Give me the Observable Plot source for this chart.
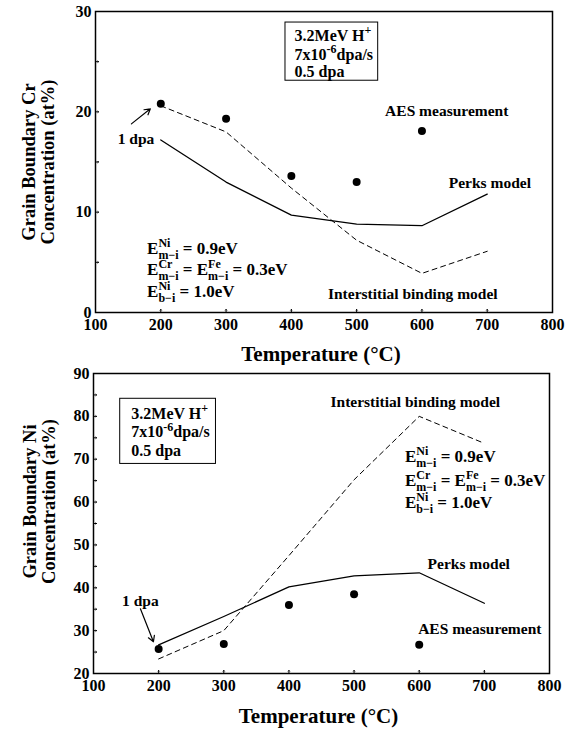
<!DOCTYPE html>
<html><head><meta charset="utf-8">
<style>
html,body{margin:0;padding:0;background:#fff}
svg{display:block}
</style>
<script src="https://cdn.jsdelivr.net/npm/d3@7"></script>
<script src="https://cdn.jsdelivr.net/npm/@observablehq/plot@0.6"></script>
</head><body>
<div id="chart"></div>
<script>
// ---------- data ----------
const modelTemps = [200, 300, 400, 500, 600, 700];
const aesTemps = [200, 300, 400, 500, 600];
const xTicks = [100, 200, 300, 400, 500, 600, 700, 800];

const crAES = [20.8, 19.3, 13.6, 13.0, 18.1];
const crPerks = [17.2, 13.0, 9.7, 8.8, 8.65, 11.8];
const crInterstitial = [20.6, 18.0, 12.4, 7.2, 3.9, 6.1];
const crTicks = [0, 10, 20, 30];
const crMinor = [5, 15, 25];

const niAES = [25.7, 26.9, 36.0, 38.5, 26.7];
const niPerks = [26.7, 33.3, 40.2, 42.8, 43.5, 36.4];
const niInterstitial = [23.4, 30.0, 47.5, 65.2, 80.0, 73.7];
const niTicks = [20, 30, 40, 50, 60, 70, 80, 90];
const niMinor = [25, 35, 45, 55, 65, 75, 85];

const boxLines = ["3.2MeV H^{+}", "7x10^{-6}dpa/s", "0.5 dpa"];
const eqLines = ["E^{Ni}_{m\u2212i} = 0.9eV", "E^{Cr}_{m\u2212i} = E^{Fe}_{m\u2212i} = 0.3eV", "E^{Ni}_{b\u2212i} = 1.0eV"];

const SERIF = "'Liberation Serif','Times New Roman',Times,serif";

function chart(o) {
  const lbl = (t, x, y) => Plot.text([t], {x: () => x, y: () => y, text: d => d, fontSize: 15.5, fontWeight: "bold", textAnchor: "middle"});
  return Plot.plot({
    width: 570, height: o.height,
    marginTop: o.marginTop, marginBottom: o.marginBottom, marginLeft: o.marginLeft, marginRight: o.marginRight,
    style: {fontFamily: SERIF, fontWeight: "bold", color: "black", background: "white"},
    x: {domain: [100, 800]},
    y: {domain: o.yDomain},
    marks: [
      Plot.axisX({ticks: xTicks, tickSize: 0, tickPadding: 6, fontSize: 16, label: null, tickFormat: d => String(d)}),
      Plot.axisY({ticks: o.yTicks, tickSize: 0, tickPadding: 4, fontSize: 16, label: null, tickFormat: d => String(d)}),
      Plot.vector(xTicks.slice(1, -1), {x: d => d, y: () => o.yDomain[0], length: 3, anchor: "start", rotate: 0, stroke: "black", strokeWidth: 1}),
      Plot.vector(o.yMinor.concat(o.yTicks.slice(1, -1)), {x: () => 100, y: d => d, length: 3, anchor: "start", rotate: 90, stroke: "black", strokeWidth: 1}),
      Plot.line(modelTemps, {x: d => d, y: (d, i) => o.perks[i], stroke: "black", strokeWidth: 1.3}),
      Plot.line(modelTemps, {x: d => d, y: (d, i) => o.inter[i], stroke: "black", strokeWidth: 1, strokeDasharray: "5,4"}),
      Plot.dot(aesTemps, {x: d => d, y: (d, i) => o.aes[i], r: 4, fill: "black"}),
      Plot.rect([o.box], {x1: d => d.x1, x2: d => d.x2, y1: d => d.y1, y2: d => d.y2, fill: "white", stroke: "black", strokeWidth: 1}),
      Plot.text(boxLines, {x: () => o.box.tx, y: (d, i) => o.box.ty[i], text: d => d, textAnchor: "start", fontSize: 16, fontWeight: "bold"}),
      Plot.text(eqLines, {x: () => o.eq.x, y: (d, i) => o.eq.y[i], text: d => d, textAnchor: "start", fontSize: 17, fontWeight: "bold"}),
      ...o.labels.map(l => lbl(l.t, l.x, l.y)),
      Plot.arrow([o.arrow], {x1: d => d.x1, y1: d => d.y1, x2: d => d.x2, y2: d => d.y2, stroke: "black", strokeWidth: 1.2, headLength: 8}),
      Plot.frame({stroke: "black", strokeWidth: 1.5}),
      Plot.text(["Temperature (°C)"], {frameAnchor: "bottom", lineAnchor: "middle", textAnchor: "middle", dx: -3, dy: o.xTitleDy, fontSize: 21, fontWeight: "bold"}),
      Plot.text([o.yTitle], {frameAnchor: "left", rotate: -90, textAnchor: "middle", lineAnchor: "middle", dx: o.yTitleDx, dy: o.yTitleDy, fontSize: 18.5, fontWeight: "bold", lineHeight: 1.03})
    ]
  });
}

const topChart = chart({
  height: 365, marginTop: 11, marginBottom: 53, marginLeft: 95, marginRight: 18,
  yDomain: [0, 30], yTicks: crTicks, yMinor: crMinor,
  aes: crAES, perks: crPerks, inter: crInterstitial,
  box: {x1: 391, x2: 533, y1: 23.1, y2: 28.9, tx: 405, ty: [27.6, 25.7, 24.0]},
  eq: {x: 179, y: [6.4, 4.3, 2.05]},
  labels: [
    {t: "AES measurement", x: 638, y: 20.1},
    {t: "Perks model", x: 704, y: 12.9},
    {t: "Interstitial binding model", x: 586, y: 1.8},
    {t: "1 dpa", x: 162, y: 17.3}
  ],
  arrow: {x1: 155, y1: 18.8, x2: 184, y2: 20.3},
  xTitleDy: 42,
  yTitle: "Grain Boundary Cr\nConcentration (at%)", yTitleDx: -57, yTitleDy: 0
});

const bottomChart = chart({
  height: 368, marginTop: 8, marginBottom: 60, marginLeft: 93, marginRight: 21,
  yDomain: [20, 90], yTicks: niTicks, yMinor: niMinor,
  aes: niAES, perks: niPerks, inter: niInterstitial,
  box: {x1: 141, x2: 288, y1: 68.9, y2: 84.1, tx: 158, ty: [80.6, 76.3, 71.9]},
  eq: {x: 578, y: [70.7, 65.0, 59.8]},
  labels: [
    {t: "Interstitial binding model", x: 594, y: 83.3},
    {t: "Perks model", x: 676, y: 45.6},
    {t: "AES measurement", x: 693, y: 30.4},
    {t: "1 dpa", x: 172, y: 37.0}
  ],
  arrow: {x1: 172, y1: 35.1, x2: 192, y2: 27.4},
  xTitleDy: 43,
  yTitle: "Grain Boundary Ni\nConcentration (at%)", yTitleDx: -54, yTitleDy: -22
});

const host = document.getElementById("chart");
host.appendChild(topChart);
host.appendChild(bottomChart);

// ---------- rich text: superscripts / subscripts ----------
const NS = "http://www.w3.org/2000/svg";
function richify(svg) {
  svg.querySelectorAll("text").forEach(el => {
    const s = el.textContent;
    if (!/[\^_]\{/.test(s)) return;
    const parts = [];
    const re = /([\^_])\{([^}]*)\}|([^\^_]+)/g;
    let m;
    while ((m = re.exec(s))) {
      if (m[3] !== undefined) parts.push({type: "n", text: m[3]});
      else parts.push({type: m[1] === "^" ? "sup" : "sub", text: m[2]});
    }
    while (el.firstChild) el.removeChild(el.firstChild);
    const base = parseFloat(getComputedStyle(el).fontSize) || 15;
    const small = Math.round(base * 0.72);
    const up = -base * 0.42, down = base * 0.3;
    let shift = 0, supW = 0, pendingDx = 0, prev = null;
    for (const p of parts) {
      const t = document.createElementNS(NS, "tspan");
      t.textContent = p.text;
      if (p.type === "sup") {
        t.setAttribute("font-size", small);
        t.setAttribute("dy", up - shift); shift = up;
        el.appendChild(t);
        supW = t.getComputedTextLength();
      } else if (p.type === "sub") {
        t.setAttribute("font-size", small);
        t.setAttribute("dy", down - shift);
        if (prev === "sup") t.setAttribute("dx", -supW);
        shift = down;
        el.appendChild(t);
        const subW = t.getComputedTextLength();
        pendingDx = prev === "sup" ? Math.max(0, supW - subW) : 0;
      } else {
        t.setAttribute("dy", -shift); shift = 0;
        if (pendingDx) t.setAttribute("dx", pendingDx);
        pendingDx = 0;
        el.appendChild(t);
      }
      prev = p.type;
    }
  });
}
richify(topChart);
richify(bottomChart);
</script>
</body></html>
